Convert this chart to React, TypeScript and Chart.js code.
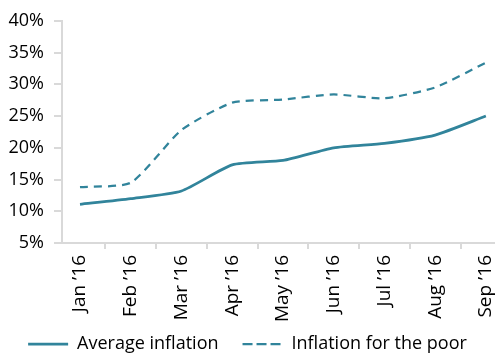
import React, { useEffect, useRef } from 'react';
import { Chart, registerables } from 'chart.js';
Chart.register(...registerables);

const months = ["Jan \u201916", "Feb \u201916", "Mar \u201916", "Apr \u201916", "May \u201916", "Jun \u201916", "Jul \u201916", "Aug \u201916", "Sep \u201916"];
const averageInflation = [11.1, 12.0, 13.2, 17.3, 18.0, 20.0, 20.7, 22.0, 25.0];
const poorInflation = [13.8, 14.5, 22.8, 27.1, 27.6, 28.4, 27.8, 29.5, 33.4];
const yTicks = [5, 10, 15, 20, 25, 30, 35, 40];

const TEAL = '#31849B';
const AXIS = '#D9D9D9';
const FONT = '"Open Sans", sans-serif';

export default function App() {
  const ref = useRef<HTMLCanvasElement | null>(null);
  useEffect(() => {
    document.body.style.margin = '0';
    if (!ref.current) return;
    const xTickValues: number[] = [];
    for (let i = 0; i < months.length; i++) {
      xTickValues.push(i);
      if (i < months.length - 1) xTickValues.push(i + 0.5);
    }
    const labelRoom = {
      id: 'labelRoom',
      afterLayout(chart: any) {
        const s = chart.scales.x;
        if (s) s.bottom = chart.height;
      },
    };
    const chart = new Chart(ref.current, {
      type: 'line',
      data: {
        datasets: [
          {
            label: 'Average inflation',
            data: averageInflation.map((v, i) => ({ x: i, y: v })),
            borderColor: TEAL,
            backgroundColor: TEAL,
            borderWidth: 2.75,
            pointRadius: 0,
            tension: 0.2,
            fill: false,
          },
          {
            label: 'Inflation for the poor',
            data: poorInflation.map((v, i) => ({ x: i, y: v })),
            borderColor: TEAL,
            backgroundColor: TEAL,
            borderWidth: 2.25,
            borderDash: [8, 6],
            pointRadius: 0,
            tension: 0.2,
            fill: false,
          },
        ],
      },
      plugins: [labelRoom],
      options: {
        animation: false,
        responsive: true,
        maintainAspectRatio: false,
        layout: { padding: { top: 20, right: 0, left: 0, bottom: -10 } },
        plugins: {
          tooltip: { enabled: false },
          legend: {
            position: 'bottom',
            labels: {
              boxWidth: 40,
              boxHeight: 0,
              padding: 24,
              color: '#000',
              font: { family: FONT, size: 18 },
            },
          },
        },
        scales: {
          x: {
            type: 'linear',
            min: -0.355,
            max: 8.18,
            afterBuildTicks: (scale: any) => {
              scale.ticks = xTickValues.map((v) => ({ value: v }));
            },
            afterFit: (scale: any) => {
              scale.height = 68;
              scale.paddingLeft = 0;
              scale.paddingRight = 0;
            },
            border: { color: AXIS, width: 2 },
            grid: {
              drawOnChartArea: false,
              drawTicks: true,
              tickLength: 6,
              lineWidth: 2,
              color: (ctx: any) =>
                ctx.tick && Number.isInteger(ctx.tick.value) ? 'rgba(0,0,0,0)' : AXIS,
            },
            ticks: {
              autoSkip: false,
              minRotation: 90,
              maxRotation: 90,
              padding: 6,
              color: '#000',
              font: { family: FONT, size: 19 },
              callback: (v: any) => (Number.isInteger(v) ? months[v] : ''),
            },
          },
          y: {
            min: 5,
            max: 40,
            afterBuildTicks: (scale: any) => {
              scale.ticks = yTicks.map((v) => ({ value: v }));
            },
            afterFit: (scale: any) => {
              scale.width = 62;
            },
            border: { color: AXIS, width: 2 },
            grid: {
              drawOnChartArea: false,
              drawTicks: true,
              tickLength: 8,
              lineWidth: 2,
              color: AXIS,
            },
            ticks: {
              padding: 10,
              color: '#000',
              font: { family: FONT, size: 18 },
              callback: (v: any) => v + '%',
            },
          },
        },
      },
    });
    return () => chart.destroy();
  }, []);
  return (
    <div style={{ width: 495, height: 353, position: 'relative' }}>
      <canvas ref={ref} />
    </div>
  );
}
